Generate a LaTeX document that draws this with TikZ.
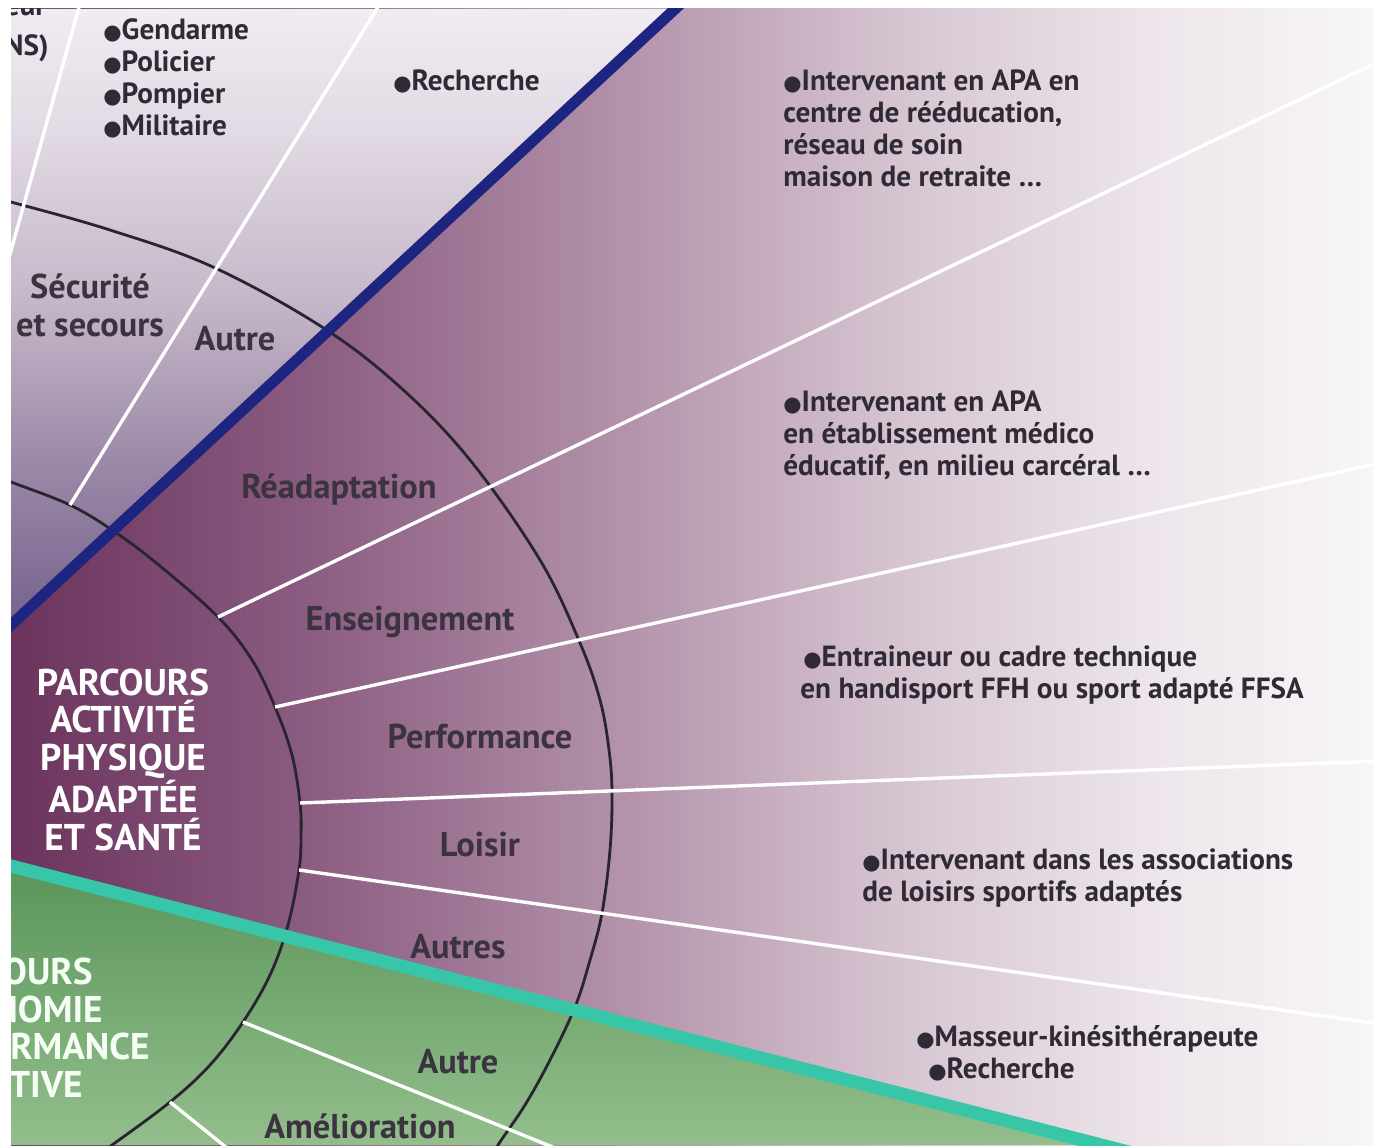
\documentclass[tikz,border=0pt]{standalone}
\usepackage{fontspec}
\setmainfont{PT Sans}
\newfontfamily\symf{DejaVu Sans}
\definecolor{P0}{HTML}{6B335D}
\definecolor{P1}{HTML}{8A5B80}
\definecolor{P2}{HTML}{B08EA7}
\definecolor{P3}{HTML}{D6C5D1}
\definecolor{P4}{HTML}{EDE5EB}
\definecolor{P5}{HTML}{F8F6F7}
\definecolor{U0}{HTML}{75638F}
\definecolor{U1}{HTML}{9A87A6}
\definecolor{U2}{HTML}{C5B7C9}
\definecolor{U3}{HTML}{E2DAE4}
\definecolor{U4}{HTML}{F0ECF2}
\definecolor{G0}{HTML}{5A955A}
\definecolor{G1}{HTML}{93BE8C}
\definecolor{navyc}{HTML}{1E2580}
\definecolor{tealc}{HTML}{38C6A8}
\definecolor{arcc}{HTML}{2A2431}
\definecolor{labc}{HTML}{3B3340}
\definecolor{txtc}{HTML}{2F2A35}
\pgfdeclarehorizontalshading{purpsh}{100bp}{color(0bp)=(P0); color(25bp)=(P0); color(35.6bp)=(P1); color(46.6bp)=(P2); color(57.6bp)=(P3); color(66.8bp)=(P4); color(75bp)=(P5); color(100bp)=(P5)}
\pgfdeclareverticalshading{upsh}{100bp}{color(0bp)=(U0); color(25bp)=(U0); color(37.6bp)=(U1); color(51.4bp)=(U2); color(65.2bp)=(U3); color(75bp)=(U4); color(100bp)=(U4)}
\newcommand\bul{{\symf\fontsize{10.5}{10.5}\selectfont ●}}
\newcommand\ts{\rule{0pt}{12pt}}
\tikzset{
  lab/.style={font=\fontsize{17.2}{19}\selectfont\bfseries, text=labc, inner sep=0pt, anchor=base},
  labml/.style={font=\fontsize{17.2}{19}\selectfont\bfseries, text=labc, inner sep=0pt, anchor=north, align=center},
  blt/.style={font=\fontsize{14.6}{16}\selectfont\bfseries, text=txtc, inner sep=0pt, anchor=north west, align=left},
  wt/.style={font=\fontsize{18.6}{18.75}\selectfont\bfseries, text=white, inner sep=0pt, anchor=north, align=center},
  wtl/.style={font=\fontsize{18.6}{18.75}\selectfont\bfseries, text=white!96!green, inner sep=0pt, anchor=base east},
  rayl/.style={draw=white, line width=1.7pt},
  arcl/.style={draw=arcc, line width=1.4pt},
}
\begin{document}
\begin{tikzpicture}[x=0.5pt,y=-0.5pt]
\useasboundingbox (0,0) rectangle (1374,1145);
\fill[white] (0,0) rectangle (1374,1145);
\begin{scope}
\clip (11,9) rectangle (1374,1145);
% regions
\shade[shading=purpsh] (11,9) rectangle (1374,1145);
\shade[shading=upsh] (11,9) -- (675,9) -- (11,625) -- cycle;
\shade[top color=G0, bottom color=G1] (11,866) -- (1100,1145) -- (11,1145) -- cycle;
% coordinates
\coordinate (bT) at (691.6,-6.4);
\coordinate (bB) at (-8.9,643.5);
\coordinate (tL) at (-22.1,857.5);
\coordinate (tR) at (1160,1160);
\coordinate (a0) at (70,505);   \coordinate (a1) at (386,-6);
\coordinate (b0) at (81,0);     \coordinate (b1) at (0,290);
\coordinate (r1s) at (218,617); \coordinate (r1e) at (1380,61);
\coordinate (r2s) at (275,707); \coordinate (r2e) at (1380,463);
\coordinate (r3s) at (300,803); \coordinate (r3e) at (1380,761);
\coordinate (r4s) at (299,870); \coordinate (r4e) at (1380,1024);
\coordinate (g1s) at (243,1022); \coordinate (g1e) at (560,1150);
\coordinate (g2s) at (170,1102); \coordinate (g2e) at (232,1152);
% arcs
\draw[arcl] plot[smooth, tension=0.6] coordinates {(-20,470) (11,482) (70,505) (115,532) (160,566) (218,617) (252,660) (275,707) (292,755) (300,803) (301,836) (299,870) (288,925) (270,975) (243,1022) (210,1065) (170,1102) (112,1145) (85,1163)};
\draw[arcl] plot[smooth, tension=0.6] coordinates {(-20,194) (11,202) (110,230) (213,267) (322,327) (400,387) (470,460) (540,560) (580,643) (600,700) (609,750) (612,793) (610,850) (602,913) (590,960) (575,1007) (550,1060) (525,1105) (498,1145) (487,1165)};
% rays
\draw[rayl] (a0) -- (a1);
\draw[rayl] (b0) -- (b1);
\draw[rayl] (r1s) -- (r1e);
\draw[rayl] (r2s) -- (r2e);
\draw[rayl] (r3s) -- (r3e);
\draw[rayl] (r4s) -- (r4e);
\draw[rayl] (g1s) -- (g1e);
\draw[rayl] (g2s) -- (g2e);
% dividing lines
\draw[navyc, line width=5.5pt] (bT) -- (bB);
\draw[tealc, line width=6.5pt] (tL) -- (tR);
% texts upper region
\node[blt, anchor=base east] (eur) at (46,16) {eur};
\node[blt, anchor=base east] (ns) at (49,56) {NS)};
\node[blt] (secl) at (103,15) {\ts\bul Gendarme\\\bul Policier\\\bul Pompier\\\bul Militaire};
\node[blt] (rech1) at (393,66) {\ts\bul Recherche};
\node[labml] (secu) at (90,270) {\rule{0pt}{14pt}Sécurité\\et secours};
\node[lab] (autre1) at (235,350) {Autre};
% purple region
\node[lab] (readapt) at (339,498) {Réadaptation};
\node[lab] (ens) at (410,630) {Enseignement};
\node[lab] (perf) at (480,748) {Performance};
\node[lab] (loisir) at (480,856) {Loisir};
\node[lab] (autres) at (458,958) {Autres};
\node[wt] (apas) at (123,665) {\rule{0pt}{15pt}PARCOURS\\ACTIVITÉ\\PHYSIQUE\\ADAPTÉE\\ET SANTÉ};
\node[blt] (t1) at (783,66) {\ts\bul Intervenant en APA en\\centre de rééducation,\\réseau de soin\\maison de retraite …};
\node[blt] (t2) at (783,387) {\ts\bul Intervenant en APA\\en établissement médico\\éducatif, en milieu carcéral …};
\node[blt] (t3) at (800,642) {\ts\hspace{1.5pt}\bul Entraineur ou cadre technique\\en handisport FFH ou sport adapté FFSA};
\node[blt] (t4) at (862,845) {\ts\bul Intervenant dans les associations\\de loisirs sportifs adaptés};
\node[blt] (t5) at (916,1022) {\ts\bul Masseur-kinésithérapeute};
\node[blt] (t6) at (928,1054) {\ts\bul Recherche};
% green region
\node[lab] (autre2) at (458,1073) {Autre};
\node[lab] (amel) at (360,1138) {Amélioration};
\node[wtl] (gt1) at (93,984) {OURS};
\node[wtl] (gt2) at (103,1022) {NOMIE};
\node[wtl] (gt3) at (150,1059) {RMANCE};
\node[wtl] (gt4) at (83,1097) {RTIVE};
\end{scope}
\end{tikzpicture}
\end{document}
